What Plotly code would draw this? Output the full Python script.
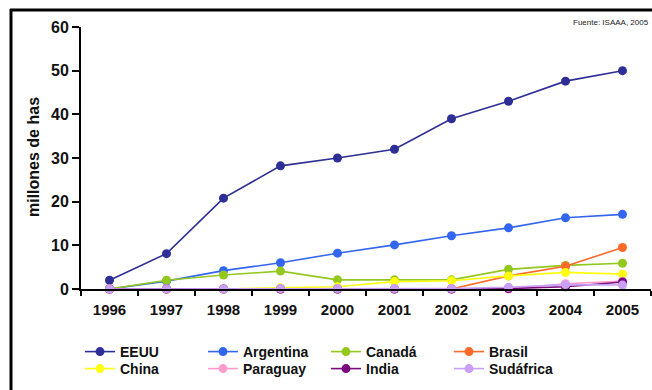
import plotly.graph_objects as go

years = ["1996", "1997", "1998", "1999", "2000", "2001", "2002", "2003", "2004", "2005"]

eeuu = [2.0, 8.1, 20.8, 28.2, 30.0, 32.0, 39.0, 43.0, 47.6, 50.0]
argentina = [0.0, 1.8, 4.2, 6.0, 8.2, 10.1, 12.2, 14.0, 16.3, 17.1]
canada = [0.0, 2.0, 3.2, 4.1, 2.1, 2.1, 2.1, 4.5, 5.4, 5.9]
brasil = [0.0, 0.0, 0.0, 0.0, 0.0, 0.0, 0.0, 3.0, 5.2, 9.5]
china = [0.0, 0.0, 0.0, 0.3, 0.5, 1.7, 1.9, 3.0, 3.8, 3.4]
paraguay = [0.0, 0.0, 0.0, 0.0, 0.0, 0.0, 0.0, 0.0, 1.2, 1.8]
india = [0.0, 0.0, 0.0, 0.0, 0.0, 0.0, 0.0, 0.1, 0.5, 1.6]
sudafrica = [0.0, 0.0, 0.0, 0.1, 0.1, 0.1, 0.1, 0.4, 1.0, 0.9]

series = [
    ("EEUU", eeuu, "#2E2E96"),
    ("Argentina", argentina, "#3366F0"),
    ("Canadá", canada, "#93C81E"),
    ("Brasil", brasil, "#FF6A2A"),
    ("China", china, "#FFFF10"),
    ("Paraguay", paraguay, "#FF9CCB"),
    ("India", india, "#7A0A7E"),
    ("Sudáfrica", sudafrica, "#C9A0F5"),
]

fig = go.Figure()
for i, (name, vals, col) in enumerate(series):
    fig.add_trace(go.Scatter(
        x=years, y=vals, name=name, mode="lines+markers",
        line=dict(color=col, width=1.6),
        marker=dict(color=col, size=9),
        cliponaxis=False,
        legend="legend" if i < 4 else "legend2",
    ))

L, T, B = 81, 27, 101
W, H = 652, 390
pw, ph = W - L - 1, H - T - B


def px_x(px):
    return (px - L) / pw


def px_y(py):
    return (H - B - py) / ph


font_family = "Liberation Sans, Arial, sans-serif"
legend_font = dict(size=14, family=font_family, color="#111111", weight="bold")


def legend_row(center_y):
    return dict(
        orientation="h", x=px_x(80), xanchor="left", y=px_y(center_y), yanchor="middle",
        font=legend_font, entrywidth=78, entrywidthmode="pixels", itemwidth=30,
        bgcolor="rgba(0,0,0,0)",
    )


fig.update_layout(
    width=W, height=H,
    margin=dict(l=L, r=1, t=T, b=B, autoexpand=False),
    paper_bgcolor="white", plot_bgcolor="white",
    font=dict(family=font_family, color="#111111"),
    showlegend=True,
    legend=legend_row(352),
    legend2=legend_row(369),
    xaxis=dict(
        type="category", range=[-0.5, 9.5], tickson="boundaries",
        showline=True, linecolor="black", linewidth=2,
        ticks="outside", ticklen=5, tickcolor="black", tickwidth=2,
        ticklabelstandoff=6,
        showgrid=False, zeroline=False,
        tickfont=dict(size=15, family=font_family, color="#111111", weight="bold"),
    ),
    yaxis=dict(
        range=[0, 60], dtick=10, tick0=0,
        showline=True, linecolor="black", linewidth=2,
        ticks="outside", ticklen=7, tickcolor="black", tickwidth=2,
        showgrid=False, zeroline=False,
        tickfont=dict(size=16, family=font_family, color="#111111", weight="bold"),
    ),
    shapes=[
        dict(type="line", xref="paper", yref="paper",
             x0=px_x(11), x1=px_x(11), y0=px_y(9), y1=px_y(400),
             line=dict(color="black", width=3)),
        dict(type="line", xref="paper", yref="paper",
             x0=px_x(10), x1=px_x(660), y0=px_y(10), y1=px_y(10),
             line=dict(color="black", width=3)),
    ],
    annotations=[
        dict(text="Fuente: ISAAA, 2005", xref="paper", yref="paper",
             x=px_x(651), y=px_y(22), xanchor="right", yanchor="middle",
             showarrow=False, font=dict(size=8, family=font_family, color="#222222")),
        dict(text="millones de has", xref="paper", yref="paper",
             x=px_x(33), y=px_y(157), xanchor="center", yanchor="middle",
             textangle=-90, showarrow=False,
             font=dict(size=16, family=font_family, color="#111111", weight="bold")),
    ],
)

fig.write_html("out.html")
